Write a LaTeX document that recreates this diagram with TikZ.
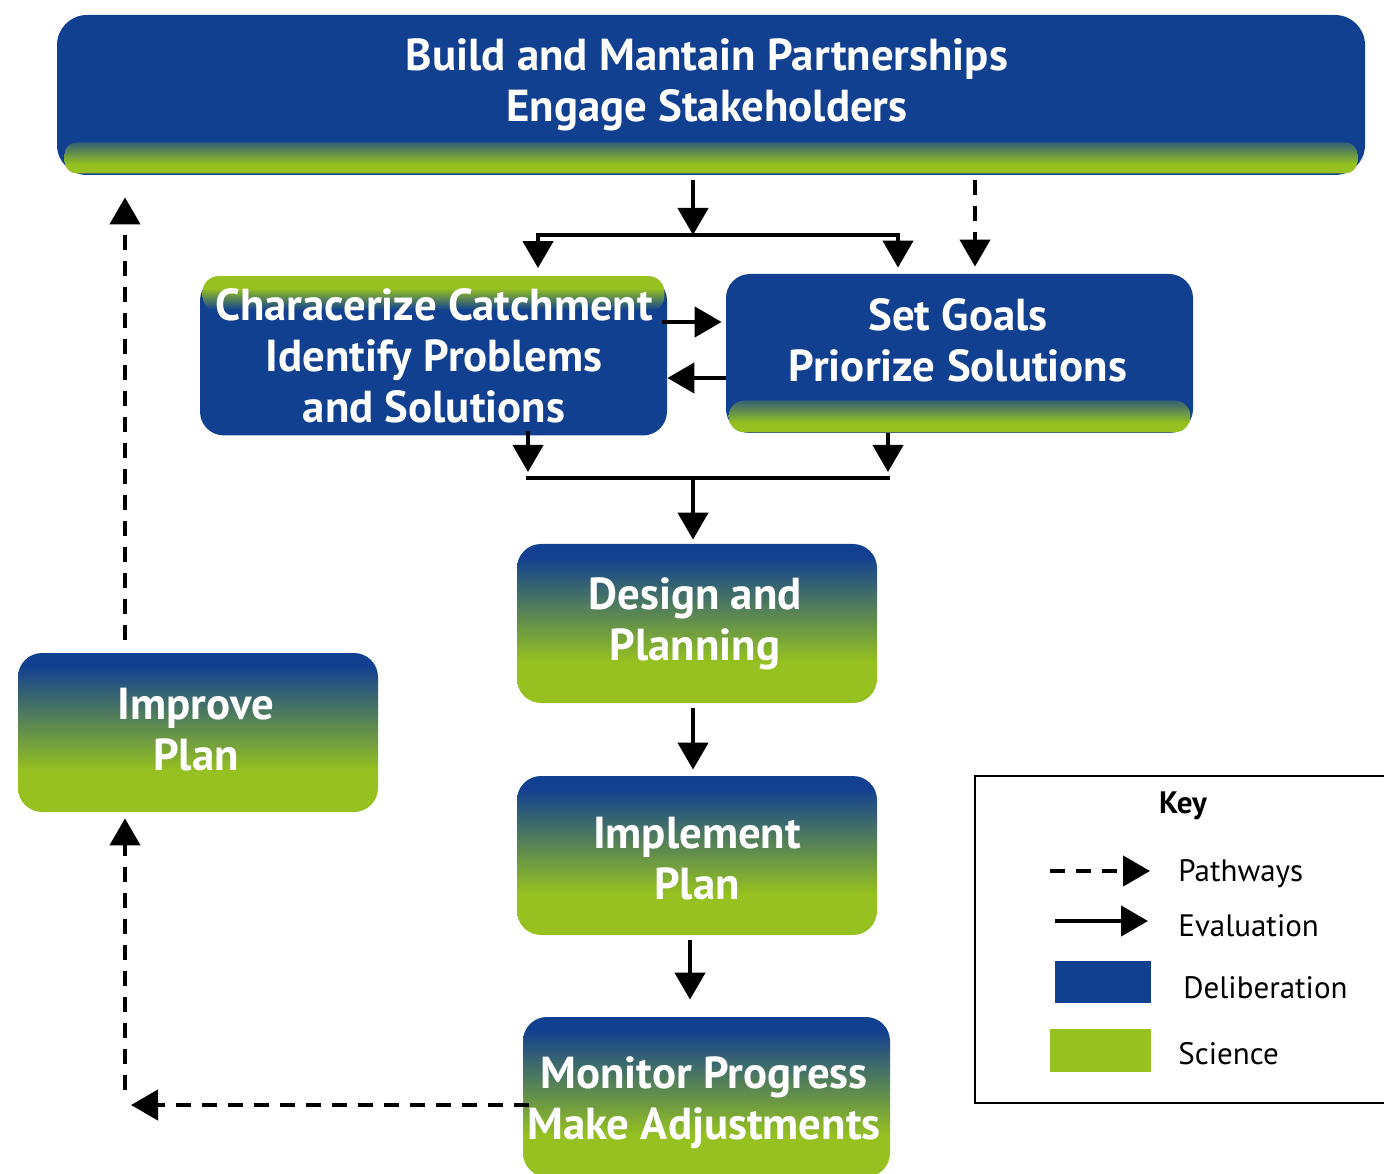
\documentclass[tikz,border=0pt]{standalone}
\usepackage{fontspec}
\setmainfont{PT Sans}
\usetikzlibrary{arrows.meta, calc, positioning}
\definecolor{dblue}{RGB}{18,64,145}
\definecolor{sgreen}{RGB}{150,193,32}
% blue on top fading into green at the foot
\pgfdeclareverticalshading{bluegreen}{100bp}{color(0bp)=(sgreen); color(38bp)=(sgreen); color(71bp)=(dblue); color(100bp)=(dblue)}
% thin strips along the edge of the blue boxes
\pgfdeclareverticalshading{bandup}{100bp}{color(0bp)=(sgreen); color(40bp)=(sgreen); color(75bp)=(dblue!75!sgreen); color(100bp)=(dblue!75!sgreen)}
\pgfdeclareverticalshading{banddown}{100bp}{color(0bp)=(dblue); color(28bp)=(dblue); color(58bp)=(sgreen); color(100bp)=(sgreen)}
\tikzset{
  stagebox/.style={rounded corners=12pt, minimum width=180pt, minimum height=79.5pt, inner sep=0pt},
  delib/.style={stagebox, fill=dblue},
  sci/.style={stagebox, shade, shading=bluegreen},
  boxtext/.style={text=white, font=\bfseries\fontsize{22.4}{25.5}\selectfont, align=center},
  keytext/.style={font=\fontsize{15.5}{18}\selectfont, anchor=base west, inner xsep=0pt},
  flow/.style={line width=2.2pt, -{Triangle[length=13.5pt,width=15pt]}},
  pathway/.style={flow, dash pattern=on 7.5pt off 5.5pt},
}

\begin{document}
\begin{tikzpicture}[x=0.5pt, y=0.5pt]
    \useasboundingbox (0,0) rectangle (1384,1173);

    % stages
    \node[delib, minimum width=654pt, minimum height=80pt, rounded corners=15pt] (build) at (711,1078) {};
    \node[delib, minimum width=233.5pt] (char) at (433.5,817) {};
    \node[delib, minimum width=233.5pt] (goals) at (959.5,819.5) {};
    \node[sci] (design) at (697,549.5) {};
    \node[sci] (impl) at (697,317.5) {};
    \node[sci, minimum width=183.5pt, minimum height=80pt] (monitor) at (706.5,76) {};
    \node[sci] (improve) at (198,440.5) {};

    % green strips on the blue boxes
    \shade[shading=bandup, rounded corners=6pt]
      ($(build.south west)+(8,2)$) rectangle ($(build.south east)+(-8,33)$);
    \shade[shading=banddown, rounded corners=8pt]
      ($(char.north west)+(3,-36)$) rectangle ($(char.north east)+(-3,0)$);
    \shade[shading=bandup, rounded corners=8pt]
      ($(goals.south west)+(3,1)$) rectangle ($(goals.south east)+(-3,33)$);

    \node[boxtext] (build-t) at (707,1088.5) {Build and Mantain Partnerships\\Engage Stakeholders};
    \node[boxtext] (char-t) at (434,817) {Characerize Catchment\\Identify Problems\\and Solutions};
    \node[boxtext] (goals-t) at (958,833) {Set Goals\\Priorize Solutions};
    \node[boxtext] (design-t) at (695,549) {Design and\\Planning};
    \node[boxtext] (impl-t) at (697,314.5) {Implement\\Plan};
    \node[boxtext] (monitor-t) at (704,70.5) {Monitor Progress\\Make Adjustments};
    \node[boxtext] (improve-t) at (196,443) {Improve\\Plan};

    % evaluation links
    \coordinate (split) at (693,938);
    \coordinate (jl) at (538,938);
    \coordinate (jr) at (898,938);
    \draw[flow, shorten <=2.5pt] (build.south -| split) -- (split);
    \draw[line width=2.2pt, line cap=rect] (jl) -- (jr);
    \draw[flow, shorten >=4pt] (jl) -- (jl |- char.north);
    \draw[flow, shorten >=3pt] (jr) -- (jr |- goals.north);

    \coordinate (c2g) at (0,851);
    \coordinate (g2c) at (0,795);
    \draw[flow, shorten <=-2.5pt, shorten >=2pt] (char.east |- c2g) -- (goals.west |- c2g);
    \draw[flow] (goals.west |- g2c) -- (char.east |- g2c);

    \coordinate (kl) at (528,695);
    \coordinate (kr) at (888,695);
    \coordinate (merge) at (693,695);
    \draw[flow, shorten <=-2.5pt, shorten >=3pt] (char.south -| kl) -- (kl);
    \draw[flow, shorten >=3pt] (goals.south -| kr) -- (kr);
    \draw[line width=2.2pt, line cap=rect] (kl) -- (kr);
    \draw[flow, shorten >=2pt] (merge) -- (design.north -| merge);

    \coordinate (x693) at (693,0);
    \coordinate (x690) at (690,0);
    \draw[flow, shorten <=2.5pt, shorten >=3pt] (design.south -| x693) -- (impl.north -| x693);
    \draw[flow, shorten <=2.5pt, shorten >=8.5pt] (impl.south -| x690) -- (monitor.north -| x690);

    % pathways
    \coordinate (dx) at (975,0);
    \draw[pathway, shorten <=2.5pt, shorten >=3.5pt] (build.south -| dx) -- (goals.north -| dx);
    \coordinate (turn) at (131,68);
    \coordinate (rise) at (125,83);
    \draw[pathway, shorten <=-3pt] (monitor.west |- turn) -- (turn);
    \draw[pathway, shorten >=3pt] (rise) -- (improve.south -| rise);
    \draw[pathway, shorten <=6.5pt, shorten >=11pt] (improve.north -| rise) -- (build.south -| rise);

    % key
    \draw[line width=1pt] (975,397) rectangle (1392,70);
    \node[font=\bfseries\fontsize{15.5}{18}\selectfont, anchor=base] (key) at (1183,360) {Key};
    \coordinate (pw-a) at (1050,302);
    \coordinate (pw-b) at (1150,302);
    \coordinate (ev-a) at (1055,252);
    \coordinate (ev-b) at (1148,252);
    \draw[pathway] (pw-a) -- (pw-b);
    \draw[flow] (ev-a) -- (ev-b);
    \fill[dblue] (1055,212) rectangle (1151,170);
    \fill[sgreen] (1050,144) rectangle (1151,101);
    \node[keytext] (pw-t) at (1178,292) {Pathways};
    \node[keytext] (ev-t) at (1178,237) {Evaluation};
    \node[keytext] (de-t) at (1183,175) {Deliberation};
    \node[keytext] (sc-t) at (1178,109) {Science};
\end{tikzpicture}
\end{document}
